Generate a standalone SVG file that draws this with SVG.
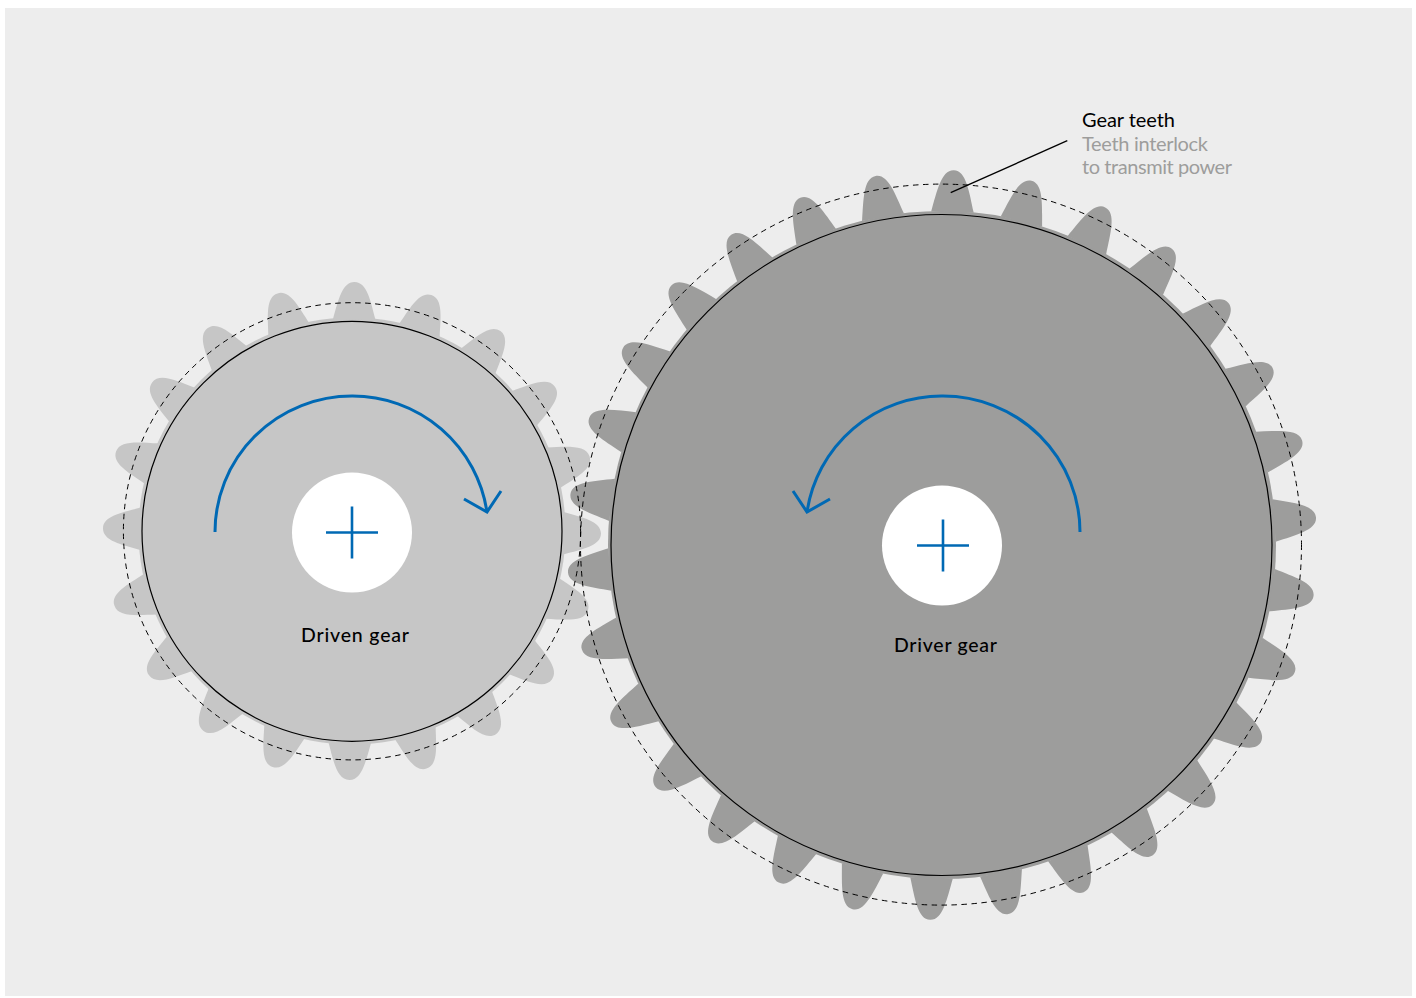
<svg xmlns="http://www.w3.org/2000/svg" width="1416" height="998" viewBox="0 0 1416 998">
<style>
.outline{fill:none;stroke:#000;stroke-width:1.2}
.pitch{fill:none;stroke:#000;stroke-width:1;stroke-dasharray:5.500 4.500}
.blue{fill:none;stroke:#0069b4;stroke-width:3}
.cross{fill:none;stroke:#0069b4;stroke-width:2.6}
.hole{fill:#fff}
.note{font-family:"Lato","Liberation Sans",sans-serif;font-size:20px}
.lab{font-family:"Lato","Liberation Sans",sans-serif;font-size:19.5px;font-weight:500;fill:#000}
</style>
<defs>
<path id="ts" d="M330.700 319.500 C336 300.500 339.500 282 352 282 C364.500 282 368 300.500 373.300 319.500 Z" fill="#c6c6c6"/>
<path id="tb" d="M920.700 212 C926 191 929.500 170 942 170 C954.500 170 958 191 963.300 212 Z" fill="#9d9d9c"/>
</defs>
<rect x="5" y="8" width="1407" height="988" fill="#ededed"/>
<g id="driven-gear">
<circle cx="352" cy="531" r="213.500" fill="#c6c6c6"/>
<g transform="rotate(0.6 352 531)">
<use href="#ts"/><use href="#ts" transform="rotate(18 352 531)"/><use href="#ts" transform="rotate(36 352 531)"/><use href="#ts" transform="rotate(54 352 531)"/><use href="#ts" transform="rotate(72 352 531)"/><use href="#ts" transform="rotate(90 352 531)"/><use href="#ts" transform="rotate(108 352 531)"/><use href="#ts" transform="rotate(126 352 531)"/><use href="#ts" transform="rotate(144 352 531)"/><use href="#ts" transform="rotate(162 352 531)"/><use href="#ts" transform="rotate(180 352 531)"/><use href="#ts" transform="rotate(198 352 531)"/><use href="#ts" transform="rotate(216 352 531)"/><use href="#ts" transform="rotate(234 352 531)"/><use href="#ts" transform="rotate(252 352 531)"/><use href="#ts" transform="rotate(270 352 531)"/><use href="#ts" transform="rotate(288 352 531)"/><use href="#ts" transform="rotate(306 352 531)"/><use href="#ts" transform="rotate(324 352 531)"/><use href="#ts" transform="rotate(342 352 531)"/>
</g>
<circle class="outline" cx="352" cy="531.300" r="210"/>
<circle class="hole" cx="352" cy="532.500" r="60"/>
<path class="cross" d="M326 532.500H378M352 506.500V558.500"/>
<path class="blue" d="M215 532A137 136 0 0 1 352 396A136 136 0 0 1 487 512"/>
<path class="blue" d="M464 499L487 512L501 491"/>
<text class="lab" x="301" y="641.500" textLength="108">Driven gear</text>
</g>
<g id="driver-gear">
<circle cx="942" cy="545" r="334" fill="#9d9d9c"/>
<g transform="rotate(1.8 942 545)">
<use href="#tb"/><use href="#tb" transform="rotate(12 942 545)"/><use href="#tb" transform="rotate(24 942 545)"/><use href="#tb" transform="rotate(36 942 545)"/><use href="#tb" transform="rotate(48 942 545)"/><use href="#tb" transform="rotate(60 942 545)"/><use href="#tb" transform="rotate(72 942 545)"/><use href="#tb" transform="rotate(84 942 545)"/><use href="#tb" transform="rotate(96 942 545)"/><use href="#tb" transform="rotate(108 942 545)"/><use href="#tb" transform="rotate(120 942 545)"/><use href="#tb" transform="rotate(132 942 545)"/><use href="#tb" transform="rotate(144 942 545)"/><use href="#tb" transform="rotate(156 942 545)"/><use href="#tb" transform="rotate(168 942 545)"/><use href="#tb" transform="rotate(180 942 545)"/><use href="#tb" transform="rotate(192 942 545)"/><use href="#tb" transform="rotate(204 942 545)"/><use href="#tb" transform="rotate(216 942 545)"/><use href="#tb" transform="rotate(228 942 545)"/><use href="#tb" transform="rotate(240 942 545)"/><use href="#tb" transform="rotate(252 942 545)"/><use href="#tb" transform="rotate(264 942 545)"/><use href="#tb" transform="rotate(276 942 545)"/><use href="#tb" transform="rotate(288 942 545)"/><use href="#tb" transform="rotate(300 942 545)"/><use href="#tb" transform="rotate(312 942 545)"/><use href="#tb" transform="rotate(324 942 545)"/><use href="#tb" transform="rotate(336 942 545)"/><use href="#tb" transform="rotate(348 942 545)"/>
</g>
<circle class="outline" cx="941.500" cy="545" r="330.500"/>
<circle class="hole" cx="942" cy="545.500" r="60"/>
<path class="cross" d="M917 545.500H969M943 519.500V571.500"/>
<path class="blue" d="M1080 532A137 136 0 0 0 943 396A136 136 0 0 0 807 512"/>
<path class="blue" d="M793 491L807 512L830 499"/>
<text class="lab" x="894" y="652" textLength="103">Driver gear</text>
</g>
<g id="pitch-circles">
<circle class="pitch" cx="352" cy="531.300" r="228.600"/>
<circle class="pitch" cx="941" cy="544.600" r="360.500"/>
</g>
<g id="connectors">
<line x1="1067.300" y1="140.700" x2="950.700" y2="192.700" stroke="#000" stroke-width="1.300"/>
</g>
<g id="gear-teeth-label">
<text class="note" x="1082" y="127" fill="#000" textLength="93">Gear teeth</text>
<text class="note" x="1082" y="151" fill="#9d9d9c" textLength="126">Teeth interlock</text>
<text class="note" x="1082" y="174" fill="#9d9d9c" textLength="150">to transmit power</text>
</g>
</svg>
